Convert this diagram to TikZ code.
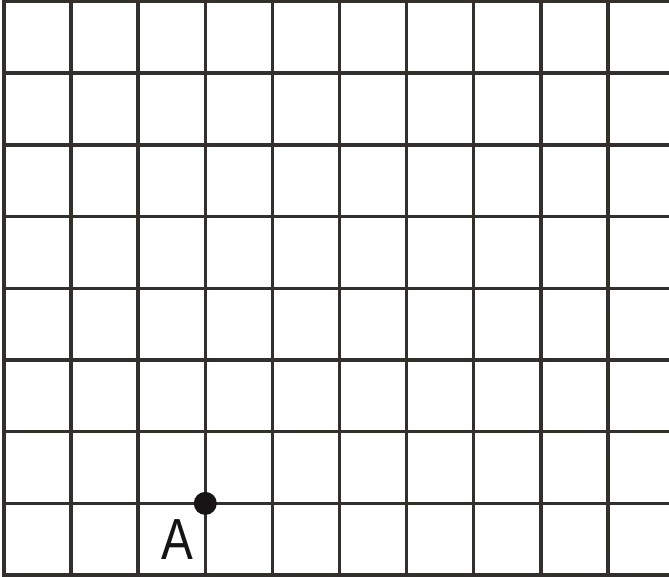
\documentclass[tikz,border=0pt]{standalone}
\usepackage{fontspec}
\setmainfont{Liberation Sans}
\definecolor{gridc}{RGB}{50,47,45}
\definecolor{dotc}{RGB}{22,20,20}
\begin{document}
\begin{tikzpicture}[x=1pt,y=-1pt,
  gridline/.style={draw=gridc,line width=3.5pt},
  pointdot/.style={circle,fill=dotc,inner sep=0pt,minimum size=23pt},
  pointlabel/.style={inner sep=0pt,anchor=base,text=dotc,font=\fontsize{58}{60}\selectfont}]
\useasboundingbox (0,0) rectangle (669,577);
\fill[white] (0,0) rectangle (669,577);
\foreach \x in {4,71.1,138.2,205.3,272.4,339.5,406.6,473.7,540.8,607.9}
  \draw[gridline] (\x,0) -- (\x,577);
\foreach \y in {1.5,73.2,144.9,216.6,288.3,360,431.7,503.4,575.1}
  \draw[gridline] (2.25,\y) -- (669,\y);
\node[pointdot] (A) at (205.3,503.4) {};
\node[pointlabel] (Alabel) at (177.3,559) {\scalebox{0.82}[1]{A}};
\end{tikzpicture}
\end{document}
